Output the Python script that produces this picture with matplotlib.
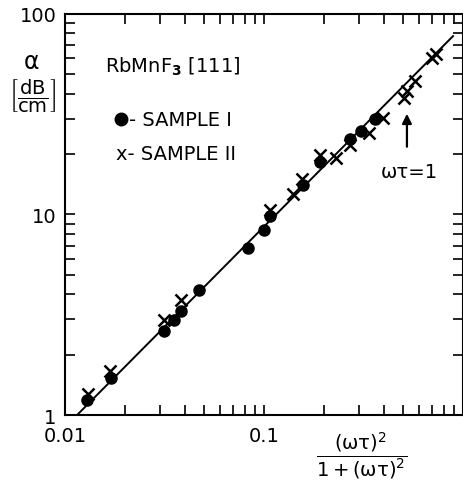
import matplotlib
matplotlib.use("Agg")
import matplotlib.pyplot as plt
from matplotlib.ticker import FixedLocator, FixedFormatter, NullFormatter

plt.rcParams['font.family'] = ['DejaVu Sans']
plt.rcParams['mathtext.fontset'] = 'dejavusans'

# Sample I (filled circles)
sample1_x = [0.0129, 0.0170, 0.0315, 0.0354, 0.0383, 0.0473, 0.0832, 0.100,
             0.1075, 0.157, 0.192, 0.270, 0.307, 0.360]
sample1_y = [1.19, 1.53, 2.62, 2.99, 3.32, 4.18, 6.84, 8.35,
             9.8, 14.0, 18.3, 23.7, 26.1, 30.0]

# Sample II (crosses)
sample2_x = [0.0130, 0.0169, 0.0316, 0.0383, 0.1075, 0.140, 0.155, 0.192,
             0.230, 0.270, 0.335, 0.394, 0.505, 0.52, 0.571, 0.70, 0.73]
sample2_y = [1.28, 1.665, 2.99, 3.73, 10.5, 12.7, 15.1, 19.8,
             19.2, 22.2, 25.4, 30.4, 38.0, 41.1, 46.4, 60.0, 63.0]

# fitted line (slope 1 on log-log)
fit_x = [0.0115, 0.89]
fit_y = [1.0, 77.5]

x_major = [0.01, 0.1]
x_major_labels = ["0.01", "0.1"]
y_major = [1, 10, 100]
y_major_labels = ["1", "10", "100"]

fig = plt.figure(figsize=(4.64, 4.81), dpi=100)
ax = fig.add_axes([0.140, 0.135, 0.858, 0.834])
ax.set_xscale('log')
ax.set_yscale('log')
ax.set_xlim(0.01, 1.0)
ax.set_ylim(1, 100)

ax.plot(fit_x, fit_y, color='black', lw=1.4, zorder=2)
ax.plot(sample1_x, sample1_y, 'o', color='black', ms=8, zorder=3)
ax.plot(sample2_x, sample2_y, 'x', color='black', ms=8, mew=1.8, zorder=4)

for s in ax.spines.values():
    s.set_linewidth(1.5)

ax.xaxis.set_major_locator(FixedLocator(x_major))
ax.xaxis.set_major_formatter(FixedFormatter(x_major_labels))
ax.yaxis.set_major_locator(FixedLocator(y_major))
ax.yaxis.set_major_formatter(FixedFormatter(y_major_labels))
ax.xaxis.set_minor_formatter(NullFormatter())
ax.yaxis.set_minor_formatter(NullFormatter())
ax.tick_params(which='both', direction='in', top=True, right=True,
               length=7, width=1.2, labelsize=14)
ax.tick_params(axis='x', which='major', pad=8)
ax.tick_params(axis='y', which='major', pad=6)

ax.text(0.10, 0.870, r"RbMnF$_\mathbf{3}$ [111]", transform=ax.transAxes,
        fontsize=14, va='center', ha='left')
ax.plot([0.141], [0.738], 'o', color='black', ms=9, transform=ax.transAxes,
        clip_on=False)
ax.text(0.160, 0.738, "- SAMPLE I", transform=ax.transAxes,
        fontsize=14, va='center', ha='left')
ax.text(0.128, 0.651, "x- SAMPLE II", transform=ax.transAxes,
        fontsize=14, va='center', ha='left')

ax.text(0.864, 0.606, "ωτ=1", transform=ax.transAxes,
        fontsize=14, va='center', ha='center')
ax.annotate("", xy=(0.859, 0.758), xytext=(0.859, 0.662),
            xycoords='axes fraction', textcoords='axes fraction',
            arrowprops=dict(arrowstyle='-|>', color='black', lw=1.6,
                            mutation_scale=14))

fig.text(32 / 464, 1 - 62 / 481, "α", fontsize=17, ha='center', va='center')
fig.text(33 / 464, 1 - 95 / 481, r"$\left[\dfrac{\mathrm{dB}}{\mathrm{cm}}\right]$",
         fontsize=14, ha='center', va='center')
fig.text(362 / 464, 1 - 456 / 481, r"$\dfrac{(\mathrm{\omega\tau})^2}{1+(\mathrm{\omega\tau})^2}$",
         fontsize=14, ha='center', va='center')

fig.savefig("out.png", dpi=100)
